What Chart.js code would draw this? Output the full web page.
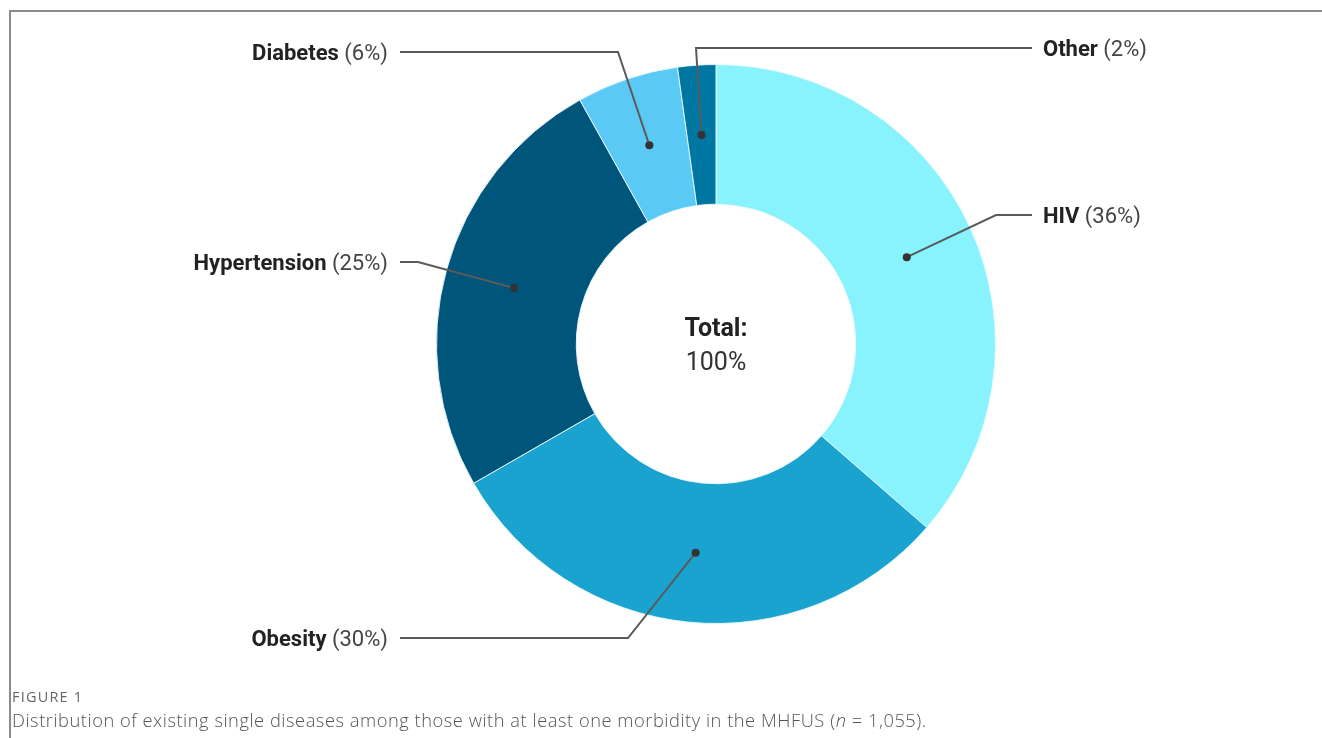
<!DOCTYPE html>
<html>
<head>
<meta charset="utf-8">
<script src="https://cdn.jsdelivr.net/npm/chart.js@4"></script>
<style>
  body { margin: 0; background: #fff; width: 1322px; height: 738px; overflow: hidden; position: relative; }
  #frame { position: absolute; left: 9px; top: 10px; right: 0; bottom: 0; border-top: 2px solid #8c8c8c; border-left: 2px solid #8c8c8c; }
  #chartWrap { position: absolute; left: 0; top: 0; width: 1322px; height: 738px; }
  .figno { position: absolute; left: 12px; top: 687px; font-family: "Open Sans", sans-serif; font-size: 14.5px; color: #666; letter-spacing: 1.2px; }
  .caption { position: absolute; left: 12px; top: 707px; font-family: "Open Sans", sans-serif; font-size: 18.3px; font-weight: 300; color: #555; letter-spacing: 0.53px; }
</style>
</head>
<body>
<div id="frame"></div>
<div id="chartWrap"><canvas id="myChart" width="1322" height="738"></canvas></div>
<div class="figno">FIGURE 1</div>
<div class="caption">Distribution of existing single diseases among those with at least one morbidity in the MHFUS (<i>n</i> = 1,055).</div>
<script>
const categories = ['HIV', 'Obesity', 'Hypertension', 'Diabetes', 'Other'];
const shares = [36.4, 30.3, 25.2, 5.9, 2.2];
const shareLabels = ['36%', '30%', '25%', '6%', '2%'];
const colors = ['#88f2fd', '#1aa3ce', '#00557a', '#5ac9f5', '#0077a3'];

// leader line layout, offsets from the doughnut centre
const leaders = [
    { side: 'right', ex: 280, ey: -129 },
    { side: 'left', ex: -88, ey: 294 },
    { side: 'left', ex: -298, ey: -82 },
    { side: 'left', ex: -98, ey: -292 },
    { side: 'right', ex: -20, ey: -296 }
];

const labelPlugin = {
    id: 'leaderLabels',
    afterDraw(chart) {
        const c = chart.ctx;
        const arcs = chart.getDatasetMeta(0).data;
        const cx = arcs[0].x, cy = arcs[0].y;
        c.save();
        arcs.forEach((arc, i) => {
            const p = arc.getCenterPoint();
            const L = leaders[i];
            const ex = cx + L.ex, ey = cy + L.ey;
            const endX = L.side === 'right' ? cx + 316 : cx - 316;
            c.strokeStyle = '#5a5a5a';
            c.lineWidth = 2;
            c.beginPath();
            c.moveTo(p.x, p.y);
            c.lineTo(ex, ey);
            c.lineTo(endX, ey);
            c.stroke();
            c.fillStyle = '#333';
            c.beginPath();
            c.arc(p.x, p.y, 4, 0, Math.PI * 2);
            c.fill();

            const bold = categories[i];
            const reg = ' (' + shareLabels[i] + ')';
            c.textBaseline = 'middle';
            c.font = 'bold 22px Roboto';
            const wb = c.measureText(bold).width;
            c.font = '22px Roboto';
            const wr = c.measureText(reg).width;
            let x = L.side === 'right' ? cx + 327 : cx - 328 - wb - wr;
            c.font = 'bold 22px Roboto';
            c.fillStyle = '#222';
            c.fillText(bold, x, ey + 2);
            c.font = '22px Roboto';
            c.fillStyle = '#444';
            c.fillText(reg, x + wb, ey + 2);
        });
        c.textAlign = 'center';
        c.font = 'bold 25px Roboto';
        c.fillStyle = '#222';
        c.fillText('Total:', cx, cy - 14);
        c.font = '25px Roboto';
        c.fillStyle = '#333';
        c.fillText('100%', cx, cy + 20);
        c.restore();
    }
};

const ctx = document.getElementById('myChart');

new Chart(ctx, {
    type: 'doughnut',
    data: {
        labels: categories,
        datasets: [{
            data: shares,
            backgroundColor: colors,
            borderColor: 'rgba(235,250,255,0.9)',
            borderWidth: 1
        }]
    },
    options: {
        responsive: false,
        animation: false,
        cutout: '50%',
        layout: {
            padding: { left: 436, right: 326, top: 64, bottom: 114 }
        },
        plugins: {
            legend: { display: false },
            tooltip: { enabled: false }
        }
    },
    plugins: [labelPlugin]
});
</script>
</body>
</html>
